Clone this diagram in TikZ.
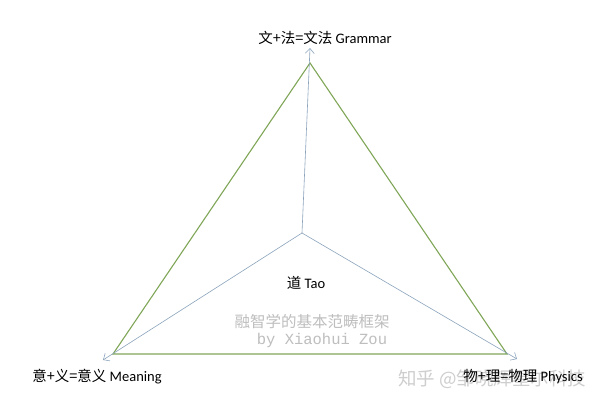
\documentclass[tikz,border=0pt]{standalone}
\usepackage{fontspec}
\setmainfont{Carlito}
\newfontfamily\cjk{Noto Sans CJK SC}
\newfontfamily\wmono{Liberation Mono}
\usepackage{tikz}
\usetikzlibrary{arrows.meta}
\definecolor{triGreen}{RGB}{128,166,88}
\definecolor{rayBlue}{RGB}{140,164,188}
\definecolor{markGray}{RGB}{190,190,190}
\tikzset{
  tri/.style={draw=triGreen, line width=1.1pt},
  ray/.style={draw=rayBlue, line width=0.6pt, ->},
  lbl/.style={inner sep=0pt, font=\fontsize{14.5}{16}\selectfont},
  wmark/.style={inner sep=0pt, text=markGray}
}
\begin{document}
\begin{tikzpicture}[x=1pt, y=-1pt, >={Straight Barb[length=5pt,width=9pt]}]
  \useasboundingbox[fill=white] (0,0) rectangle (600,403);
  %coordinates
  \coordinate (T) at (310,63);
  \coordinate (L) at (113,354);
  \coordinate (R) at (507,354);
  \coordinate (O) at (302,233);
  \coordinate (Ta) at (310,48);
  \coordinate (La) at (103,360);
  \coordinate (Ra) at (517,359);
  % watermarks
  \node[wmark, font=\cjk\fontsize{15.5}{17}\selectfont] (wm1) at (312,322) {融智学的基本范畴框架};
  \node[wmark, font=\wmono\fontsize{15.5}{17}\selectfont] (wm2) at (322,340) {by Xiaohui Zou};
  \node[wmark, text=markGray!75, font=\cjk\fontsize{18.5}{20}\selectfont, anchor=west] (wm3) at (398,379) {知乎 @邹晓辉星尔科技};
  % Edges
  \draw[tri] (T) -- (L) -- (R) -- cycle;
  \draw[ray] (O) -- (Ta);
  \draw[ray] (O) -- (La);
  \draw[ray] (O) -- (Ra);
  % labels
  \node[lbl] (gram) at (325,38) {{\cjk 文+法=文法} Grammar};
  \node[lbl] (mean) at (97,377) {{\cjk 意+义=意义} Meaning};
  \node[lbl] (phys) at (523,377) {{\cjk 物+理=物理} Physics};
  \node[lbl] (tao) at (306,283) {{\cjk 道} Tao};
\end{tikzpicture}
\end{document}
